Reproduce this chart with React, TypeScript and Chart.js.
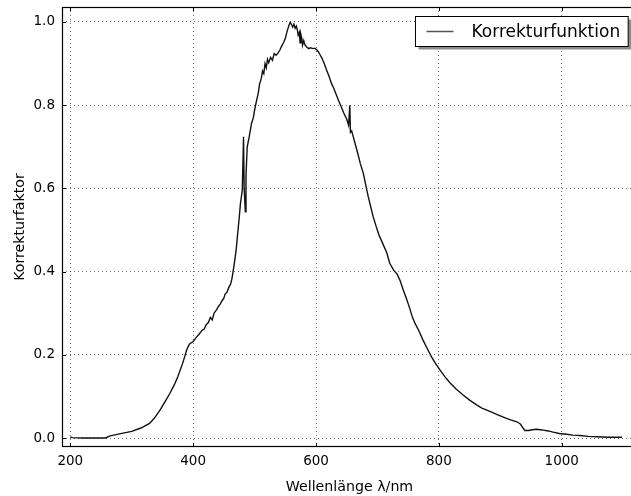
import React, { useEffect, useRef } from "react";
import { Chart, registerables } from "chart.js";

Chart.register(...registerables);

// ---- data ----
const seriesLabel = "Korrekturfunktion";
const xTitle = "Wellenlänge λ/nm";
const yTitle = "Korrekturfaktor";

const wavelengths = [
  200, 203, 220, 257, 265, 280, 300, 315, 329, 337, 346, 354, 362, 369, 375, 383, 390, 394, 400, 405,
  410, 414, 418, 421, 425, 428, 431, 434, 438, 441, 444, 447, 450, 452, 455, 458, 461, 463, 465, 468,
  470, 472, 475, 477, 480, 482, 483, 485, 486, 488, 491, 495, 498, 500, 503, 506, 508, 511, 513, 515,
  517, 519, 521, 523, 526, 529, 532, 535, 538, 541, 544, 547, 550, 553, 556, 558, 560, 562, 564, 566,
  568, 570, 571, 573, 574, 575, 577, 578, 580, 582, 585, 588, 591, 595, 598, 601, 604, 607, 610, 614,
  617, 621, 625, 629, 633, 637, 641, 645, 650, 653, 655, 656, 658, 661, 665, 668, 672, 677, 681, 685,
  689, 693, 698, 702, 709, 715, 720, 726, 732, 737, 742, 747, 752, 757, 761, 768, 774, 781, 788, 795,
  802, 810, 818, 828, 840, 850, 862, 870, 878, 886, 894, 902, 910, 918, 927, 933, 937, 940, 946, 952,
  959, 965, 970, 978, 986, 996, 1008, 1018, 1030, 1043, 1057, 1075, 1098,
];

const correction = [
  0.003, 0.001, 0.0, 0.0, 0.005, 0.01, 0.016, 0.024, 0.035, 0.048, 0.067, 0.087, 0.107, 0.127, 0.147, 0.18, 0.214, 0.226, 0.232, 0.242,
  0.25, 0.258, 0.262, 0.272, 0.278, 0.29, 0.284, 0.3, 0.308, 0.316, 0.322, 0.33, 0.336, 0.346, 0.35, 0.362, 0.37, 0.382, 0.4, 0.43,
  0.452, 0.484, 0.53, 0.564, 0.596, 0.724, 0.6, 0.544, 0.63, 0.7, 0.722, 0.756, 0.77, 0.788, 0.81, 0.829, 0.85, 0.865, 0.882, 0.876,
  0.9, 0.89, 0.91, 0.902, 0.915, 0.908, 0.924, 0.92, 0.925, 0.932, 0.942, 0.95, 0.96, 0.978, 0.992, 0.999, 0.994, 0.988, 0.995, 0.985,
  0.99, 0.978, 0.968, 0.975, 0.95, 0.972, 0.96, 0.944, 0.955, 0.945, 0.94, 0.936, 0.938, 0.936, 0.937, 0.933, 0.928, 0.92, 0.912, 0.898,
  0.885, 0.87, 0.853, 0.84, 0.825, 0.81, 0.796, 0.782, 0.766, 0.752, 0.8, 0.735, 0.738, 0.722, 0.7, 0.684, 0.66, 0.636, 0.608, 0.58,
  0.556, 0.532, 0.508, 0.49, 0.466, 0.446, 0.42, 0.404, 0.394, 0.378, 0.356, 0.336, 0.314, 0.29, 0.276, 0.256, 0.236, 0.215, 0.195, 0.178,
  0.163, 0.147, 0.133, 0.118, 0.103, 0.091, 0.079, 0.072, 0.067, 0.062, 0.057, 0.052, 0.047, 0.043, 0.039, 0.033, 0.024, 0.018, 0.018, 0.02,
  0.021, 0.02, 0.019, 0.017, 0.014, 0.011, 0.009, 0.007, 0.006, 0.004, 0.003, 0.002, 0.002,
];

const xTicks = [200, 400, 600, 800, 1000];
const yTicks = [0, 0.2, 0.4, 0.6, 0.8, 1.0];
const xRange = [186.5, 1122.5];
const yRange = [-0.0216, 1.036];

const FONT = "'DejaVu Sans', sans-serif";
const LINE_COLOR = "#111111";

const framePlugin = {
  id: "frameAndLegend",
  afterDraw(chart: any) {
    const ctx = chart.ctx as CanvasRenderingContext2D;
    const { left, right, top, bottom } = chart.chartArea;
    const xs = chart.scales.x;
    const ys = chart.scales.y;
    ctx.save();
    ctx.strokeStyle = "#000";
    ctx.lineWidth = 1;
    // inward ticks
    ctx.beginPath();
    const tl = 4;
    for (const v of xTicks) {
      const px = Math.round(xs.getPixelForValue(v)) + 0.5;
      ctx.moveTo(px, bottom);
      ctx.lineTo(px, bottom - tl);
      ctx.moveTo(px, top);
      ctx.lineTo(px, top + tl);
    }
    for (const v of yTicks) {
      const py = Math.round(ys.getPixelForValue(v)) + 0.5;
      ctx.moveTo(left, py);
      ctx.lineTo(left + tl, py);
      ctx.moveTo(right, py);
      ctx.lineTo(right - tl, py);
    }
    ctx.stroke();
    // frame
    ctx.lineWidth = 1.2;
    ctx.strokeRect(Math.round(left) + 0.5, Math.round(top) + 0.5, Math.round(right - left) - 1, Math.round(bottom - top) - 1);

    // legend (upper right inside the plot)
    const label = chart.data.datasets[0].label as string;
    ctx.font = `17px ${FONT}`;
    const tw = ctx.measureText(label).width;
    const boxW = 56 + tw + 8;
    const boxH = 30;
    const bx = Math.round(right - 9.5 - boxW) + 0.5;
    const by = Math.round(top + 9) + 0.5;
    ctx.fillStyle = "#8c8c8c";
    ctx.fillRect(bx + 3, by + 3, boxW, boxH);
    ctx.fillStyle = "#fff";
    ctx.fillRect(bx, by, boxW, boxH);
    ctx.strokeStyle = "#000";
    ctx.lineWidth = 1;
    ctx.strokeRect(bx, by, boxW, boxH);
    ctx.strokeStyle = "#555";
    ctx.lineWidth = 1.5;
    ctx.beginPath();
    ctx.moveTo(bx + 11, by + boxH / 2);
    ctx.lineTo(bx + 38, by + boxH / 2);
    ctx.stroke();
    ctx.fillStyle = "#000";
    ctx.textBaseline = "middle";
    ctx.textAlign = "left";
    ctx.fillText(label, bx + 56, by + boxH / 2 + 1);
    ctx.restore();
  },
};

export default function App() {
  const ref = useRef<HTMLCanvasElement | null>(null);

  useEffect(() => {
    if (!ref.current) return;
    const points = wavelengths.map((w, i) => ({ x: w, y: correction[i] }));
    const chart = new Chart(ref.current, {
      type: "line",
      data: {
        datasets: [
          {
            label: seriesLabel,
            data: points,
            borderColor: LINE_COLOR,
            borderWidth: 1.4,
            pointRadius: 0,
            tension: 0,
            fill: false,
          },
        ],
      },
      options: {
        animation: false,
        responsive: false,
        devicePixelRatio: 1,
        layout: { padding: { top: 7, right: 0, left: 0, bottom: 0 } },
        plugins: { legend: { display: false }, tooltip: { enabled: false } },
        scales: {
          x: {
            type: "linear",
            min: xRange[0],
            max: xRange[1],
            afterBuildTicks: (s: any) => {
              s.ticks = xTicks.map((v) => ({ value: v }));
            },
            afterFit: (s: any) => {
              s.height = 49;
              s.paddingLeft = 0;
              s.paddingRight = 0;
            },
            grid: { color: "rgba(0,0,0,0.55)", lineWidth: 1, drawTicks: false },
            border: { display: false, dash: [1, 3] },
            ticks: {
              padding: 6,
              color: "#000",
              font: { family: FONT, size: 13.5 },
              maxRotation: 0,
              callback: (v: any) => String(v),
            },
            title: {
              display: true,
              text: xTitle,
              color: "#000",
              font: { family: FONT, size: 14.2 },
              padding: { top: 6, bottom: 0 },
            },
          },
          y: {
            type: "linear",
            min: yRange[0],
            max: yRange[1],
            afterBuildTicks: (s: any) => {
              s.ticks = yTicks.map((v) => ({ value: v }));
            },
            afterFit: (s: any) => {
              s.width = 62;
              s.paddingTop = 0;
              s.paddingBottom = 0;
            },
            grid: { color: "rgba(0,0,0,0.55)", lineWidth: 1, drawTicks: false },
            border: { display: false, dash: [1, 3] },
            ticks: {
              padding: 7,
              color: "#000",
              font: { family: FONT, size: 13.5 },
              callback: (v: any) => Number(v).toFixed(1),
            },
            title: {
              display: true,
              text: yTitle,
              color: "#000",
              font: { family: FONT, size: 14.2 },
              padding: { top: 12, bottom: 0 },
            },
          },
        },
      },
      plugins: [framePlugin],
    });
    return () => chart.destroy();
  }, []);

  return (
    <div style={{ position: "absolute", left: 0, top: 0, width: 631, height: 496, overflow: "hidden", background: "#fff" }}>
      <canvas ref={ref} width={637} height={496} style={{ display: "block" }} />
    </div>
  );
}
